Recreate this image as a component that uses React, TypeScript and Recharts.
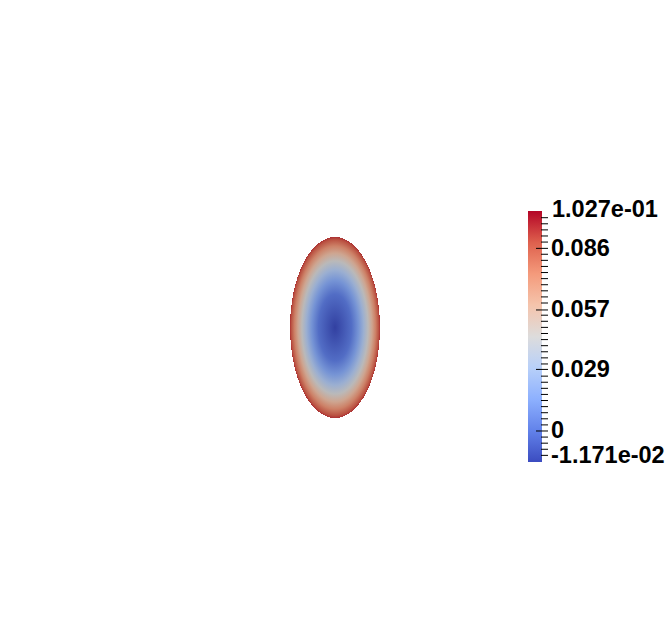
import React from "react";
import {
  Bar,
  BarChart,
  ReferenceArea,
  Scatter,
  ScatterChart,
  XAxis,
  YAxis,
} from "recharts";

// world extents of the view and the elliptical patch
const VIEW_X = [-3.722, 3.722];
const VIEW_Y = [-3.431, 3.619];
const ELLIPSE_CENTER = [0, 0];
const ELLIPSE_SEMI_AXES = [0.5, 1.0];

// scalar range of the field (min at the centre, max on the rim)
const FIELD_RANGE = [-0.01171, 0.1027];
const RANGE_LABELS = ["-1.171e-02", "1.027e-01"];
// legend scale as drawn (ticks sit a little inside the bar ends)
const LEGEND_SCALE = [-0.0146, 0.1036];
const MAJOR_TICKS = [0, 0.029, 0.057, 0.086];
const MAJOR_LABELS = ["0", "0.029", "0.057", "0.086"];
const MINOR_STEP = 0.00287;

// cool to warm colour map
const CMAP_POS = [0, 0.125, 0.25, 0.375, 0.5, 0.625, 0.75, 0.875, 1];
const CMAP_HEX = [
  "#3b4cc0",
  "#6282ea",
  "#8db0fe",
  "#b8d0f9",
  "#dddcdc",
  "#f5c4ac",
  "#f49a7b",
  "#de604d",
  "#b40426",
];

const FONT = "'Liberation Sans', Arial, sans-serif";
const SHADE = 0.84;

const shade = (hex: string, k: number) => {
  const n = parseInt(hex.slice(1), 16);
  const c = [(n >> 16) & 255, (n >> 8) & 255, n & 255].map((v) => Math.round(v * k));
  return `rgb(${c[0]},${c[1]},${c[2]})`;
};

const minorTicks: number[] = [];
for (
  let k = Math.ceil(LEGEND_SCALE[0] / MINOR_STEP);
  k * MINOR_STEP < LEGEND_SCALE[1] - MINOR_STEP / 2;
  k++
) {
  if (k % 10 !== 0 && k * MINOR_STEP > LEGEND_SCALE[0] + MINOR_STEP / 2) minorTicks.push(k * MINOR_STEP);
}
const barTicks = [LEGEND_SCALE[0], ...minorTicks, ...MAJOR_TICKS, LEGEND_SCALE[1]];
const barData = [{ name: "range", span: LEGEND_SCALE }];

function EllipseShape(props: any) {
  const { x, y, width, height } = props;
  return (
    <g>
      <defs>
        <radialGradient id="fieldGrad" cx="50%" cy="50%" r="52%">
          {CMAP_POS.map((t, i) => (
            <stop key={i} offset={Math.sqrt(t)} stopColor={shade(CMAP_HEX[i], SHADE)} />
          ))}
        </radialGradient>
      </defs>
      <ellipse
        cx={x + width / 2}
        cy={y + height / 2}
        rx={width / 2}
        ry={height / 2}
        fill="url(#fieldGrad)"
        shapeRendering="crispEdges"
      />
    </g>
  );
}

function BarTick(props: any) {
  const { x, y, payload } = props;
  const v = payload.value;
  const textStyle = { fontFamily: FONT, fontWeight: 700, fontSize: 23.5, fill: "#000" };
  if (v === LEGEND_SCALE[1]) {
    return (
      <text x={x + 10} y={y + 5.5} style={textStyle}>
        {RANGE_LABELS[1]}
      </text>
    );
  }
  if (v === LEGEND_SCALE[0]) {
    return (
      <text x={x + 9} y={y + 1} style={textStyle}>
        {RANGE_LABELS[0]}
      </text>
    );
  }
  const idx = MAJOR_TICKS.indexOf(v);
  if (idx >= 0) {
    return (
      <g>
        <line x1={x - 6} x2={x + 6} y1={y} y2={y} stroke="#000" strokeWidth={1} />
        <text x={x + 9} y={y + 7.5} style={textStyle}>
          {MAJOR_LABELS[idx]}
        </text>
      </g>
    );
  }
  return <line x1={x - 1} x2={x + 6} y1={y} y2={y} stroke="#000" strokeWidth={1} />;
}

export default function App() {
  return (
    <div style={{ position: "absolute", left: 0, top: 0, width: 670, height: 638, background: "#fff" }}>
      <div style={{ position: "absolute", left: 0, top: 0 }}>
        <ScatterChart width={670} height={638} margin={{ top: 0, right: 0, bottom: 0, left: 0 }}>
          <XAxis type="number" dataKey="x" domain={VIEW_X} allowDataOverflow hide />
          <YAxis type="number" dataKey="y" domain={VIEW_Y} allowDataOverflow hide />
          <Scatter
            data={[{ x: ELLIPSE_CENTER[0], y: ELLIPSE_CENTER[1] }]}
            shape={() => <g />}
            isAnimationActive={false}
          />
          <ReferenceArea
            x1={ELLIPSE_CENTER[0] - ELLIPSE_SEMI_AXES[0]}
            x2={ELLIPSE_CENTER[0] + ELLIPSE_SEMI_AXES[0]}
            y1={ELLIPSE_CENTER[1] - ELLIPSE_SEMI_AXES[1]}
            y2={ELLIPSE_CENTER[1] + ELLIPSE_SEMI_AXES[1]}
            shape={EllipseShape}
            ifOverflow="visible"
          />
        </ScatterChart>
      </div>
      <div style={{ position: "absolute", left: 528, top: 196 }}>
        <BarChart
          width={142}
          height={281}
          data={barData}
          margin={{ top: 15, right: 0, bottom: 15, left: 0 }}
          barCategoryGap={0}
        >
          <defs>
            <linearGradient id="cbGrad" x1="0" y1="1" x2="0" y2="0">
              {CMAP_POS.map((t, i) => (
                <stop key={i} offset={t} stopColor={CMAP_HEX[i]} />
              ))}
            </linearGradient>
          </defs>
          <XAxis dataKey="name" type="category" hide />
          <YAxis
            orientation="right"
            type="number"
            domain={LEGEND_SCALE}
            allowDataOverflow
            ticks={barTicks}
            interval={0}
            width={128}
            tickSize={0}
            tickMargin={0}
            axisLine={false}
            tickLine={false}
            tick={<BarTick />}
          />
          <Bar dataKey="span" fill="url(#cbGrad)" isAnimationActive={false} />
        </BarChart>
      </div>
    </div>
  );
}
